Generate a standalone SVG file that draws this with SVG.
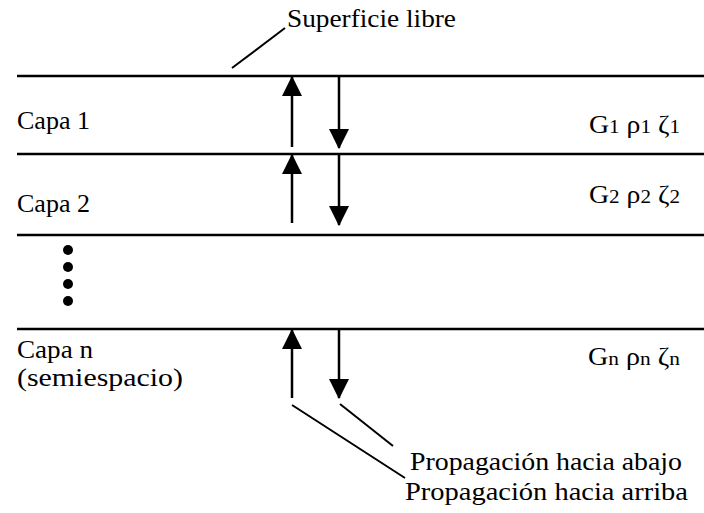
<svg xmlns="http://www.w3.org/2000/svg" width="704" height="513" viewBox="0 0 704 513">
<defs>
<style>
text{font-family:'Liberation Serif',Tinos,'Times New Roman',Times,serif;font-size:25px;fill:#000}
.s{font-size:19px}
.h{stroke:#000;stroke-width:2.5;fill:none}
.a{stroke:#000;stroke-width:2.5;fill:none}
.l{stroke:#000;stroke-width:2;fill:none}
</style>
<marker id="ah" markerUnits="userSpaceOnUse" markerWidth="20" markerHeight="20" viewBox="0 0 18 18" refX="17" refY="9" orient="auto">
<path d="M0,0 L18,9 L0,18 Z" fill="#000"/>
</marker>
</defs>
<rect width="704" height="513" fill="#fff"/>
<g id="surface">
<line class="h" x1="17" y1="76" x2="704" y2="76"/>
</g>
<g id="layer1" font-family="Liberation Serif">
<line class="h" x1="17" y1="154" x2="704" y2="154"/>
<text x="17" y="129" textLength="73" lengthAdjust="spacingAndGlyphs">Capa 1</text>
<text x="589" y="133" textLength="91" lengthAdjust="spacingAndGlyphs">G<tspan class="s">1</tspan> ρ<tspan class="s">1</tspan> ζ<tspan class="s">1</tspan></text>
</g>
<g id="layer2">
<line class="h" x1="17" y1="235" x2="704" y2="235"/>
<text x="17" y="212" textLength="73" lengthAdjust="spacingAndGlyphs">Capa 2</text>
<text x="589" y="203" textLength="91" lengthAdjust="spacingAndGlyphs">G<tspan class="s">2</tspan> ρ<tspan class="s">2</tspan> ζ<tspan class="s">2</tspan></text>
</g>
<g id="dots">
<circle cx="68" cy="250" r="5"/>
<circle cx="68" cy="267" r="5"/>
<circle cx="68" cy="284" r="5"/>
<circle cx="68" cy="301" r="5"/>
</g>
<g id="layern">
<line class="h" x1="17" y1="329" x2="704" y2="329"/>
<text x="17" y="358" textLength="76" lengthAdjust="spacingAndGlyphs">Capa n</text>
<text x="17" y="386" textLength="166" lengthAdjust="spacingAndGlyphs">(semiespacio)</text>
<text x="588" y="365" textLength="92" lengthAdjust="spacingAndGlyphs">G<tspan class="s">n</tspan> ρ<tspan class="s">n</tspan> ζ<tspan class="s">n</tspan></text>
</g>
<g id="labels">
<text x="287" y="27" textLength="169" lengthAdjust="spacingAndGlyphs">Superficie libre</text>
<text x="410" y="470" textLength="272" lengthAdjust="spacingAndGlyphs">Propagación hacia abajo</text>
<text x="405" y="500" textLength="283" lengthAdjust="spacingAndGlyphs">Propagación hacia arriba</text>
</g>
<g id="connectors">
<line class="a" x1="292" y1="147" x2="292" y2="77" marker-end="url(#ah)"/>
<line class="a" x1="339" y1="77" x2="339" y2="148" marker-end="url(#ah)"/>
<line class="a" x1="292" y1="223" x2="292" y2="155" marker-end="url(#ah)"/>
<line class="a" x1="339" y1="155" x2="339" y2="225" marker-end="url(#ah)"/>
<line class="a" x1="292" y1="398" x2="292" y2="330" marker-end="url(#ah)"/>
<line class="a" x1="339" y1="330" x2="339" y2="398" marker-end="url(#ah)"/>
<line class="l" x1="232" y1="68" x2="285" y2="28"/>
<line class="l" x1="292" y1="405" x2="405" y2="478"/>
<line class="l" x1="340" y1="404" x2="393" y2="446"/>
</g>
</svg>
